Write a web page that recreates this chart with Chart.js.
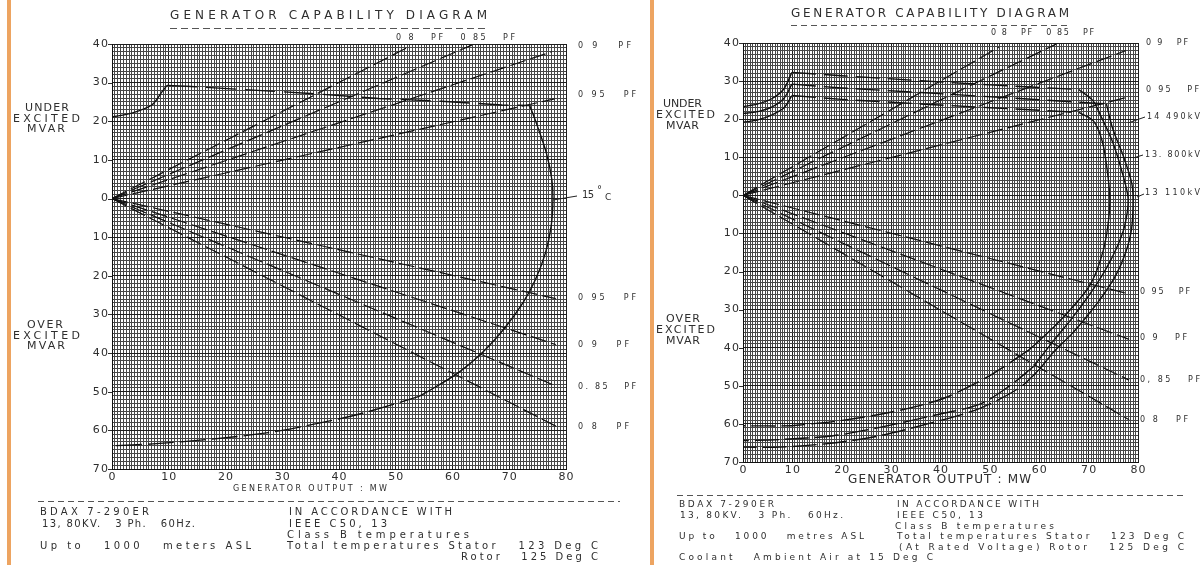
<!DOCTYPE html>
<html>
<head>
<meta charset="utf-8">
<script src="https://cdn.jsdelivr.net/npm/chart.js@4.4.1/dist/chart.umd.min.js"></script>
<style>
  body { margin: 0; background: #fff; width: 1201px; height: 565px; overflow: hidden; position: relative; }
  canvas { position: absolute; top: 0; }
  #left { left: 0; }
  #right { left: 650px; }
  .bar { position: absolute; top: 0; width: 4px; height: 565px; background: #eda461; }
</style>
</head>
<body>
<canvas id="left" width="650" height="565"></canvas>
<canvas id="right" width="551" height="565"></canvas>
<div class="bar" style="left:7px"></div>
<div class="bar" style="left:650px"></div>
<script>
// axis ticks (MW along the bottom, MVAR up/down)
const mwTicks = [0, 10, 20, 30, 40, 50, 60, 70, 80];
const mvarTicks = [40, 30, 20, 10, 0, -10, -20, -30, -40, -50, -60, -70];

// power factor lines from the origin (same on both sheets)
const pfLead080 = [[0, 0], [51.8, 38.9]];
const pfLead085 = [[0, 0], [63.4, 39.7]];
const pfLead090 = [[0, 0], [77.5, 38]];
const pfLead095 = [[0, 0], [78, 25.8]];
const pfLag095 = [[0, 0], [78.2, -25.9]];
const pfLag090 = [[0, 0], [78.2, -37.8]];
const pfLag085 = [[0, 0], [78.2, -48.5]];
const pfLag080 = [[0, 0], [78.2, -58.9]];

// left sheet : 15 deg C capability curve
const leftRise = [[0, 21.1], [3.5, 22.1], [7, 24.2], [8.8, 27.6], [9.7, 29.3]];
const leftTop = [[9.7, 29.3], [14, 29], [22, 28.3], [35, 27.2], [47, 25.9], [58, 25.2], [68.7, 24.2], [73.6, 24.1]];
const leftArc = [[73.6, 24.1], [74.9, 19], [76.5, 12], [77.5, 5], [77.7, 0], [77.4, -7], [76.4, -14], [74.6, -21],
  [72.4, -27], [69.3, -33.3], [65.5, -39.5], [60.8, -45.3], [55, -50.5]];
const leftLow = [[55, -50.5], [53.7, -51.4], [44.3, -55.5], [36.9, -58], [27.5, -60.6], [18, -62.2], [7.2, -63.5], [0, -64]];

// right sheet : three terminal voltage curves
const innerRise = [[0, 19.2], [3, 19.8], [6, 21.2], [8.3, 23], [9.9, 26.2]];
const innerTop = [[9.9, 26.2], [20, 25.2], [36, 24], [50, 23], [68, 21.8]];
const innerArc = [[68, 21.8], [71, 19.5], [72.8, 14], [73.9, 5.2], [74.3, -1.8], [73.6, -10.6], [72.4, -17],
  [70.3, -23.5], [67, -29], [63, -34.5], [58, -40.5]];
const innerLow = [[58, -40.5], [50, -47.3], [41.2, -53], [34.5, -55.6], [26.4, -57.8], [18.3, -59.4], [12.2, -60.2], [9.6, -60.5], [0, -60.5]];

const midRise = [[0, 23.3], [3, 24], [6, 25.5], [8.3, 28], [9.9, 32.3]];
const midTop = [[9.9, 32.3], [20, 31.4], [36, 30.1], [50, 29], [68, 27.8]];
const midArc = [[68, 27.8], [70.9, 24.8], [72.3, 21.3], [74.9, 13.9], [77, 5.1], [78, -1], [77.3, -8], [75.6, -14],
  [73.2, -20], [70.2, -26], [66.5, -32.5], [63, -38], [58.8, -45]];
const midLow = [[58.8, -45], [54, -50], [48, -54.8], [38.5, -57.8], [27.7, -60.9], [18.3, -63.1], [7.5, -64.1], [0, -64.4]];

const outerRise = [[0, 21.5], [3, 22], [6, 23.3], [8.3, 25.5], [9.9, 29.2]];
const outerTop = [[9.9, 29.2], [20, 28.2], [36, 27], [55, 25.5], [73.6, 24]];
const outerArc = [[73.6, 24], [74.9, 17.4], [77, 10.4], [78.7, 3.4], [79, -1], [78.7, -8.8], [77.5, -15], [75.5, -21],
  [72.5, -27], [69.5, -32], [66.5, -36.5], [63, -41], [60.1, -45.6]];
const outerLow = [[60.1, -45.6], [56, -50.5], [48, -55.9], [38.5, -59.6], [27.7, -63.1], [18.3, -65], [7.5, -66.1], [0, -66.1]];

const ink = '#2e2e2e';
const FONT = '"DejaVu Sans"';

const pts = arr => arr.map(p => ({ x: p[0], y: p[1] }));

function curve(arr, dash, tension, width) {
  return {
    data: pts(arr), showLine: true, borderColor: '#111', borderWidth: width || 1.4,
    borderDash: dash || [], tension: tension || 0, pointRadius: 0, fill: false
  };
}

function pfDatasets() {
  return [pfLead080, pfLead085, pfLead090, pfLead095, pfLag095, pfLag090, pfLag085, pfLag080]
    .map(a => curve(a, [16, 5], 0, 1.2));
}

// text with spread letters, like the plotter font
function drawSpaced(ctx, str, x, y, size, sp, align) {
  ctx.font = size + 'px ' + FONT;
  ctx.letterSpacing = '0px';
  const w = ctx.measureText(str).width + (str.length - 1) * sp;
  let left = x;
  if (align === 'right') left = x - w;
  else if (align === 'center') left = x - w / 2;
  ctx.letterSpacing = sp + 'px';
  ctx.textAlign = 'left';
  ctx.textBaseline = 'middle';
  ctx.fillText(str, left, y);
  ctx.letterSpacing = '0px';
}

function fitText(ctx, str, left, right, y, size) {
  ctx.font = size + 'px ' + FONT;
  ctx.letterSpacing = '0px';
  const w = ctx.measureText(str).width;
  const sp = str.length > 1 ? (right - left - w) / (str.length - 1) : 0;
  drawSpaced(ctx, str, left, y, size, sp, 'left');
}

function rule(ctx, x1, x2, y, dash) {
  ctx.save();
  ctx.strokeStyle = '#555';
  ctx.lineWidth = 1;
  ctx.setLineDash(dash);
  ctx.beginPath();
  ctx.moveTo(x1, y + 0.5);
  ctx.lineTo(x2, y + 0.5);
  ctx.stroke();
  ctx.restore();
}

function pointer(ctx, x1, y1, x2, y2) {
  ctx.beginPath();
  ctx.moveTo(x1, y1);
  ctx.lineTo(x2, y2);
  ctx.stroke();
}

function axisLabels(chart, size, sp) {
  const ctx = chart.ctx, xs = chart.scales.x, ys = chart.scales.y, a = chart.chartArea;
  ctx.fillStyle = ink;
  ctx.strokeStyle = ink;
  ctx.lineWidth = 1;
  mwTicks.forEach(v => drawSpaced(ctx, String(v), xs.getPixelForValue(v), a.bottom + 8, size, sp, 'center'));
  mvarTicks.forEach(v => {
    const y = ys.getPixelForValue(v);
    drawSpaced(ctx, String(Math.abs(v)), a.left - 4, y, size, sp, 'right');
    pointer(ctx, a.left - 4, Math.round(y) + 0.5, a.left, Math.round(y) + 0.5);
  });
}

function gridColor(v) {
  return v % 10 === 0 ? '#1e1e1e' : '#474747';
}

function sheetOptions(pad) {
  return {
    responsive: false,
    animation: false,
    events: [],
    layout: { padding: pad },
    plugins: { legend: { display: false }, tooltip: { enabled: false } },
    scales: {
      x: {
        type: 'linear', min: 0, max: 80,
        afterFit: s => { s.height = 20; },
        ticks: { display: false, stepSize: 0.5, autoSkip: false, maxTicksLimit: 1000 },
        grid: { color: c => gridColor(c.tick.value), drawTicks: false, lineWidth: 1 },
        border: { display: true, color: '#111', width: 1 }
      },
      y: {
        type: 'linear', min: -70, max: 40,
        afterFit: s => { s.width = 40; },
        ticks: { display: false, stepSize: 1, autoSkip: false, maxTicksLimit: 1000 },
        grid: { color: c => gridColor(c.tick.value), drawTicks: false, lineWidth: 1 },
        border: { display: true, color: '#111', width: 1 }
      }
    }
  };
}

const leftText = {
  id: 'leftText',
  afterDraw(chart) {
    const ctx = chart.ctx;
    ctx.save();
    axisLabels(chart, 11, 1.2);
    ctx.fillStyle = ink;
    fitText(ctx, 'GENERATOR CAPABILITY DIAGRAM', 170, 487, 16, 12);
    rule(ctx, 170, 487, 28, [7, 4]);
    fitText(ctx, '0 8   PF   0 85   PF', 396, 515, 38, 8);
    fitText(ctx, '0 9   PF', 578, 631, 46, 8);
    fitText(ctx, '0 95   PF', 578, 636, 95, 8);
    fitText(ctx, '0 95   PF', 578, 636, 298, 8);
    fitText(ctx, '0 9   PF', 578, 629, 345, 8);
    fitText(ctx, '0. 85   PF', 578, 636, 387, 8);
    fitText(ctx, '0 8   PF', 578, 629, 427, 8);
    fitText(ctx, '15', 582, 594, 195, 10);
    drawSpaced(ctx, '°', 597, 190, 10, 0, 'left');
    drawSpaced(ctx, 'C', 605, 198, 9, 0, 'left');
    ctx.strokeStyle = '#222';
    ctx.lineWidth = 1;
    pointer(ctx, 553, 200, 577, 196);
    fitText(ctx, 'UNDER', 25, 69, 108, 11);
    fitText(ctx, 'EXCITED', 13, 80, 119, 11);
    fitText(ctx, 'MVAR', 27, 65, 129, 11);
    fitText(ctx, 'OVER', 27, 63, 325, 11);
    fitText(ctx, 'EXCITED', 13, 80, 336, 11);
    fitText(ctx, 'MVAR', 27, 65, 346, 11);
    fitText(ctx, 'GENERATOR OUTPUT : MW', 233, 387, 489, 8);
    rule(ctx, 38, 620, 501, [6, 4]);
    fitText(ctx, 'BDAX 7-290ER', 40, 149, 512, 10);
    fitText(ctx, '13, 80KV.   3 Ph.   60Hz.', 42, 195, 524, 10);
    fitText(ctx, 'Up to   1000   meters ASL', 40, 251, 546, 10);
    fitText(ctx, 'IN ACCORDANCE WITH', 289, 452, 512, 10);
    fitText(ctx, 'IEEE C50, 13', 289, 387, 524, 10);
    fitText(ctx, 'Class B temperatures', 287, 469, 535, 10);
    fitText(ctx, 'Total temperatures Stator   123 Deg C', 287, 598, 546, 10);
    fitText(ctx, 'Rotor   125 Deg C', 461, 598, 557, 10);
    ctx.restore();
  }
};

const rightText = {
  id: 'rightText',
  afterDraw(chart) {
    const ctx = chart.ctx;
    ctx.save();
    axisLabels(chart, 11, 1.2);
    ctx.fillStyle = ink;
    fitText(ctx, 'GENERATOR CAPABILITY DIAGRAM', 141, 419, 14, 12);
    rule(ctx, 141, 419, 25, [6, 4]);
    fitText(ctx, '0 8   PF   0 85   PF', 341, 444, 33, 8);
    fitText(ctx, '0 9   PF', 496, 538, 43, 8);
    fitText(ctx, '0 95   PF', 496, 549, 90, 8);
    fitText(ctx, '14 490kV', 497, 550, 117, 8);
    fitText(ctx, '13. 800kV', 495, 550, 155, 8);
    fitText(ctx, '13 110kV', 495, 550, 193, 8);
    fitText(ctx, '0 95   PF', 490, 540, 292, 8);
    fitText(ctx, '0 9   PF', 490, 537, 338, 8);
    fitText(ctx, '0, 85   PF', 490, 550, 380, 8);
    fitText(ctx, '0 8   PF', 490, 538, 420, 8);
    ctx.strokeStyle = '#222';
    ctx.lineWidth = 1;
    pointer(ctx, 478, 123, 495, 117);
    pointer(ctx, 483, 158, 493, 155);
    pointer(ctx, 487, 197, 494, 194);
    fitText(ctx, 'UNDER', 13, 52, 104, 11);
    fitText(ctx, 'EXCITED', 6, 65, 115, 11);
    fitText(ctx, 'MVAR', 16, 49, 126, 11);
    fitText(ctx, 'OVER', 16, 50, 319, 11);
    fitText(ctx, 'EXCITED', 6, 65, 330, 11);
    fitText(ctx, 'MVAR', 16, 50, 341, 11);
    fitText(ctx, 'GENERATOR OUTPUT : MW', 198, 381, 480, 12);
    rule(ctx, 27, 534, 495, [6, 4]);
    fitText(ctx, 'BDAX 7-290ER', 29, 124, 505, 9);
    fitText(ctx, '13, 80KV.   3 Ph.   60Hz.', 30, 193, 516, 9);
    fitText(ctx, 'Up to   1000   metres ASL', 29, 214, 537, 9);
    fitText(ctx, 'Coolant   Ambient Air at 15 Deg C', 29, 283, 558, 9);
    fitText(ctx, 'IN ACCORDANCE WITH', 247, 389, 505, 9);
    fitText(ctx, 'IEEE C50, 13', 247, 333, 516, 9);
    fitText(ctx, 'Class B temperatures', 245, 404, 527, 9);
    fitText(ctx, 'Total temperatures Stator   123 Deg C', 247, 534, 537, 9);
    fitText(ctx, '(At Rated Voltage) Rotor   125 Deg C', 249, 534, 548, 9);
    ctx.restore();
  }
};

new Chart(document.getElementById('left'), {
  type: 'scatter',
  data: {
    datasets: [
      curve(leftRise, [], 0.3),
      curve(leftTop, [30, 9]),
      curve(leftArc, [], 0.3),
      curve(leftLow, [26, 6], 0.3),
      ...pfDatasets()
    ]
  },
  options: sheetOptions({ left: 72, right: 84, top: 44, bottom: 76 }),
  plugins: [leftText]
});

new Chart(document.getElementById('right'), {
  type: 'scatter',
  data: {
    datasets: [
      curve(innerRise, [], 0.3), curve(innerTop, [24, 8]), curve(innerArc, [], 0.3), curve(innerLow, [24, 6], 0.3),
      curve(midRise, [], 0.3), curve(midTop, [24, 8]), curve(midArc, [], 0.3), curve(midLow, [24, 6], 0.3),
      curve(outerRise, [], 0.3), curve(outerTop, [24, 8]), curve(outerArc, [], 0.3), curve(outerLow, [24, 6], 0.3),
      ...pfDatasets()
    ]
  },
  options: sheetOptions({ left: 53, right: 63, top: 43, bottom: 83 }),
  plugins: [rightText]
});
</script>
</body>
</html>
